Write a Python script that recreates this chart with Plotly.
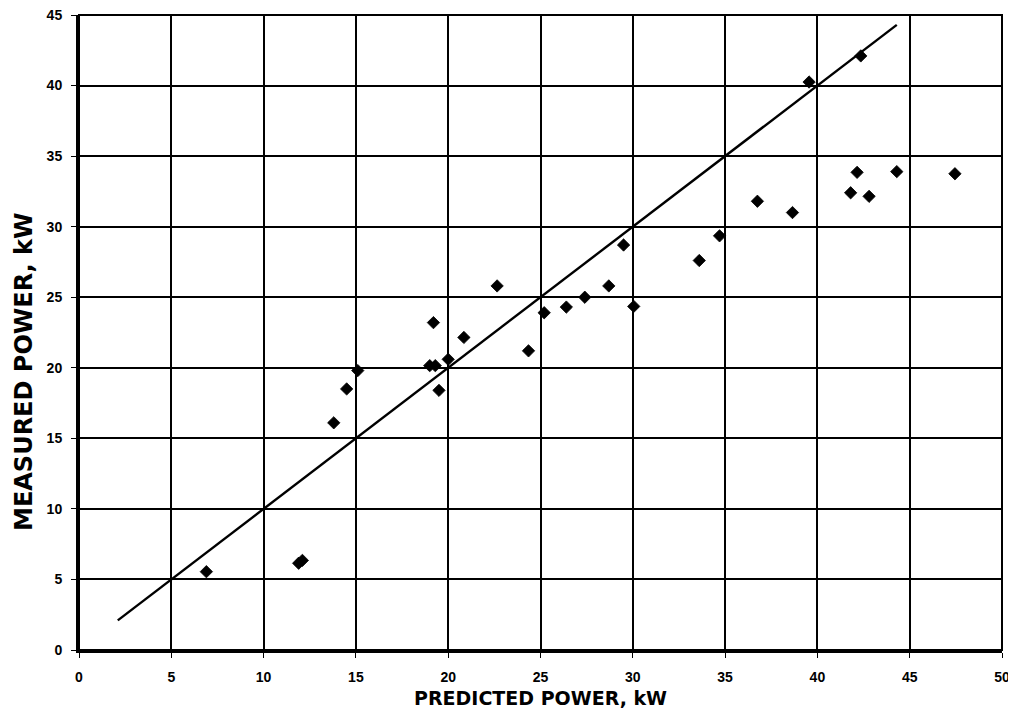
import plotly.graph_objects as go

predicted = [6.9, 11.9, 12.1, 13.8, 14.5, 15.1, 19.0, 19.3, 19.5, 19.2, 20.0, 20.85,
             22.65, 24.35, 25.2, 26.4, 27.4, 28.7, 29.5, 30.05, 33.6, 34.7, 36.75,
             38.65, 39.55, 41.8, 42.15, 42.8, 42.35, 44.3, 47.45]
measured = [5.55, 6.15, 6.35, 16.1, 18.5, 19.8, 20.15, 20.15, 18.4, 23.2, 20.6, 22.15,
            25.8, 21.2, 23.9, 24.3, 25.0, 25.8, 28.7, 24.35, 27.6, 29.35, 31.8,
            31.0, 40.25, 32.4, 33.85, 32.15, 42.1, 33.9, 33.75]
line_x = [2.1, 44.3]
line_y = [2.1, 44.3]
x_ticks = list(range(0, 51, 5))
y_ticks = list(range(0, 46, 5))

fig = go.Figure()
fig.add_trace(go.Scatter(x=line_x, y=line_y, mode="lines",
                         line=dict(color="black", width=2.4), showlegend=False))
fig.add_trace(go.Scatter(x=predicted, y=measured, mode="markers",
                         marker=dict(symbol="diamond", size=9.5, color="black",
                                     line=dict(width=0.8, color="black")), showlegend=False))

tickfont = dict(family="Liberation Sans", size=14, color="black", weight="bold")
axis_common = dict(showgrid=True, gridcolor="black", gridwidth=1.6, automargin=False,
                   zeroline=False, showline=True, linecolor="black", linewidth=3,
                   ticks="outside", ticklen=5, tickcolor="black", tickwidth=1,
                   tickfont=tickfont, mirror=False, ticklabeloverflow="allow")

fig.update_xaxes(range=[0, 50], tickvals=x_ticks, ticktext=[str(v) for v in x_ticks],
                 ticklabelstandoff=7, **axis_common)
fig.update_yaxes(range=[0, 45], tickvals=y_ticks, ticktext=[str(v) for v in y_ticks],
                 ticklabelstandoff=6, **axis_common)

fig.add_shape(type="rect", xref="paper", yref="paper", x0=0, y0=0, x1=1, y1=1,
              line=dict(color="black", width=2), layer="above")

fig.add_annotation(text="PREDICTED POWER, kW", xref="paper", yref="paper",
                   x=0.4995, y=-0.0756, showarrow=False, xanchor="center", yanchor="middle",
                   font=dict(family="DejaVu Sans", size=19, color="black", weight="bold"))
fig.add_annotation(text="MEASURED POWER, kW", xref="paper", yref="paper",
                   x=-0.0596, y=0.4378, showarrow=False, textangle=-90,
                   xanchor="center", yanchor="middle",
                   font=dict(family="DejaVu Sans", size=24, color="black", weight="bold"))

fig.update_layout(width=1006, height=708, plot_bgcolor="white", paper_bgcolor="white",
                  margin=dict(l=71, r=12, t=7, b=66))

fig.write_html("out.html")
